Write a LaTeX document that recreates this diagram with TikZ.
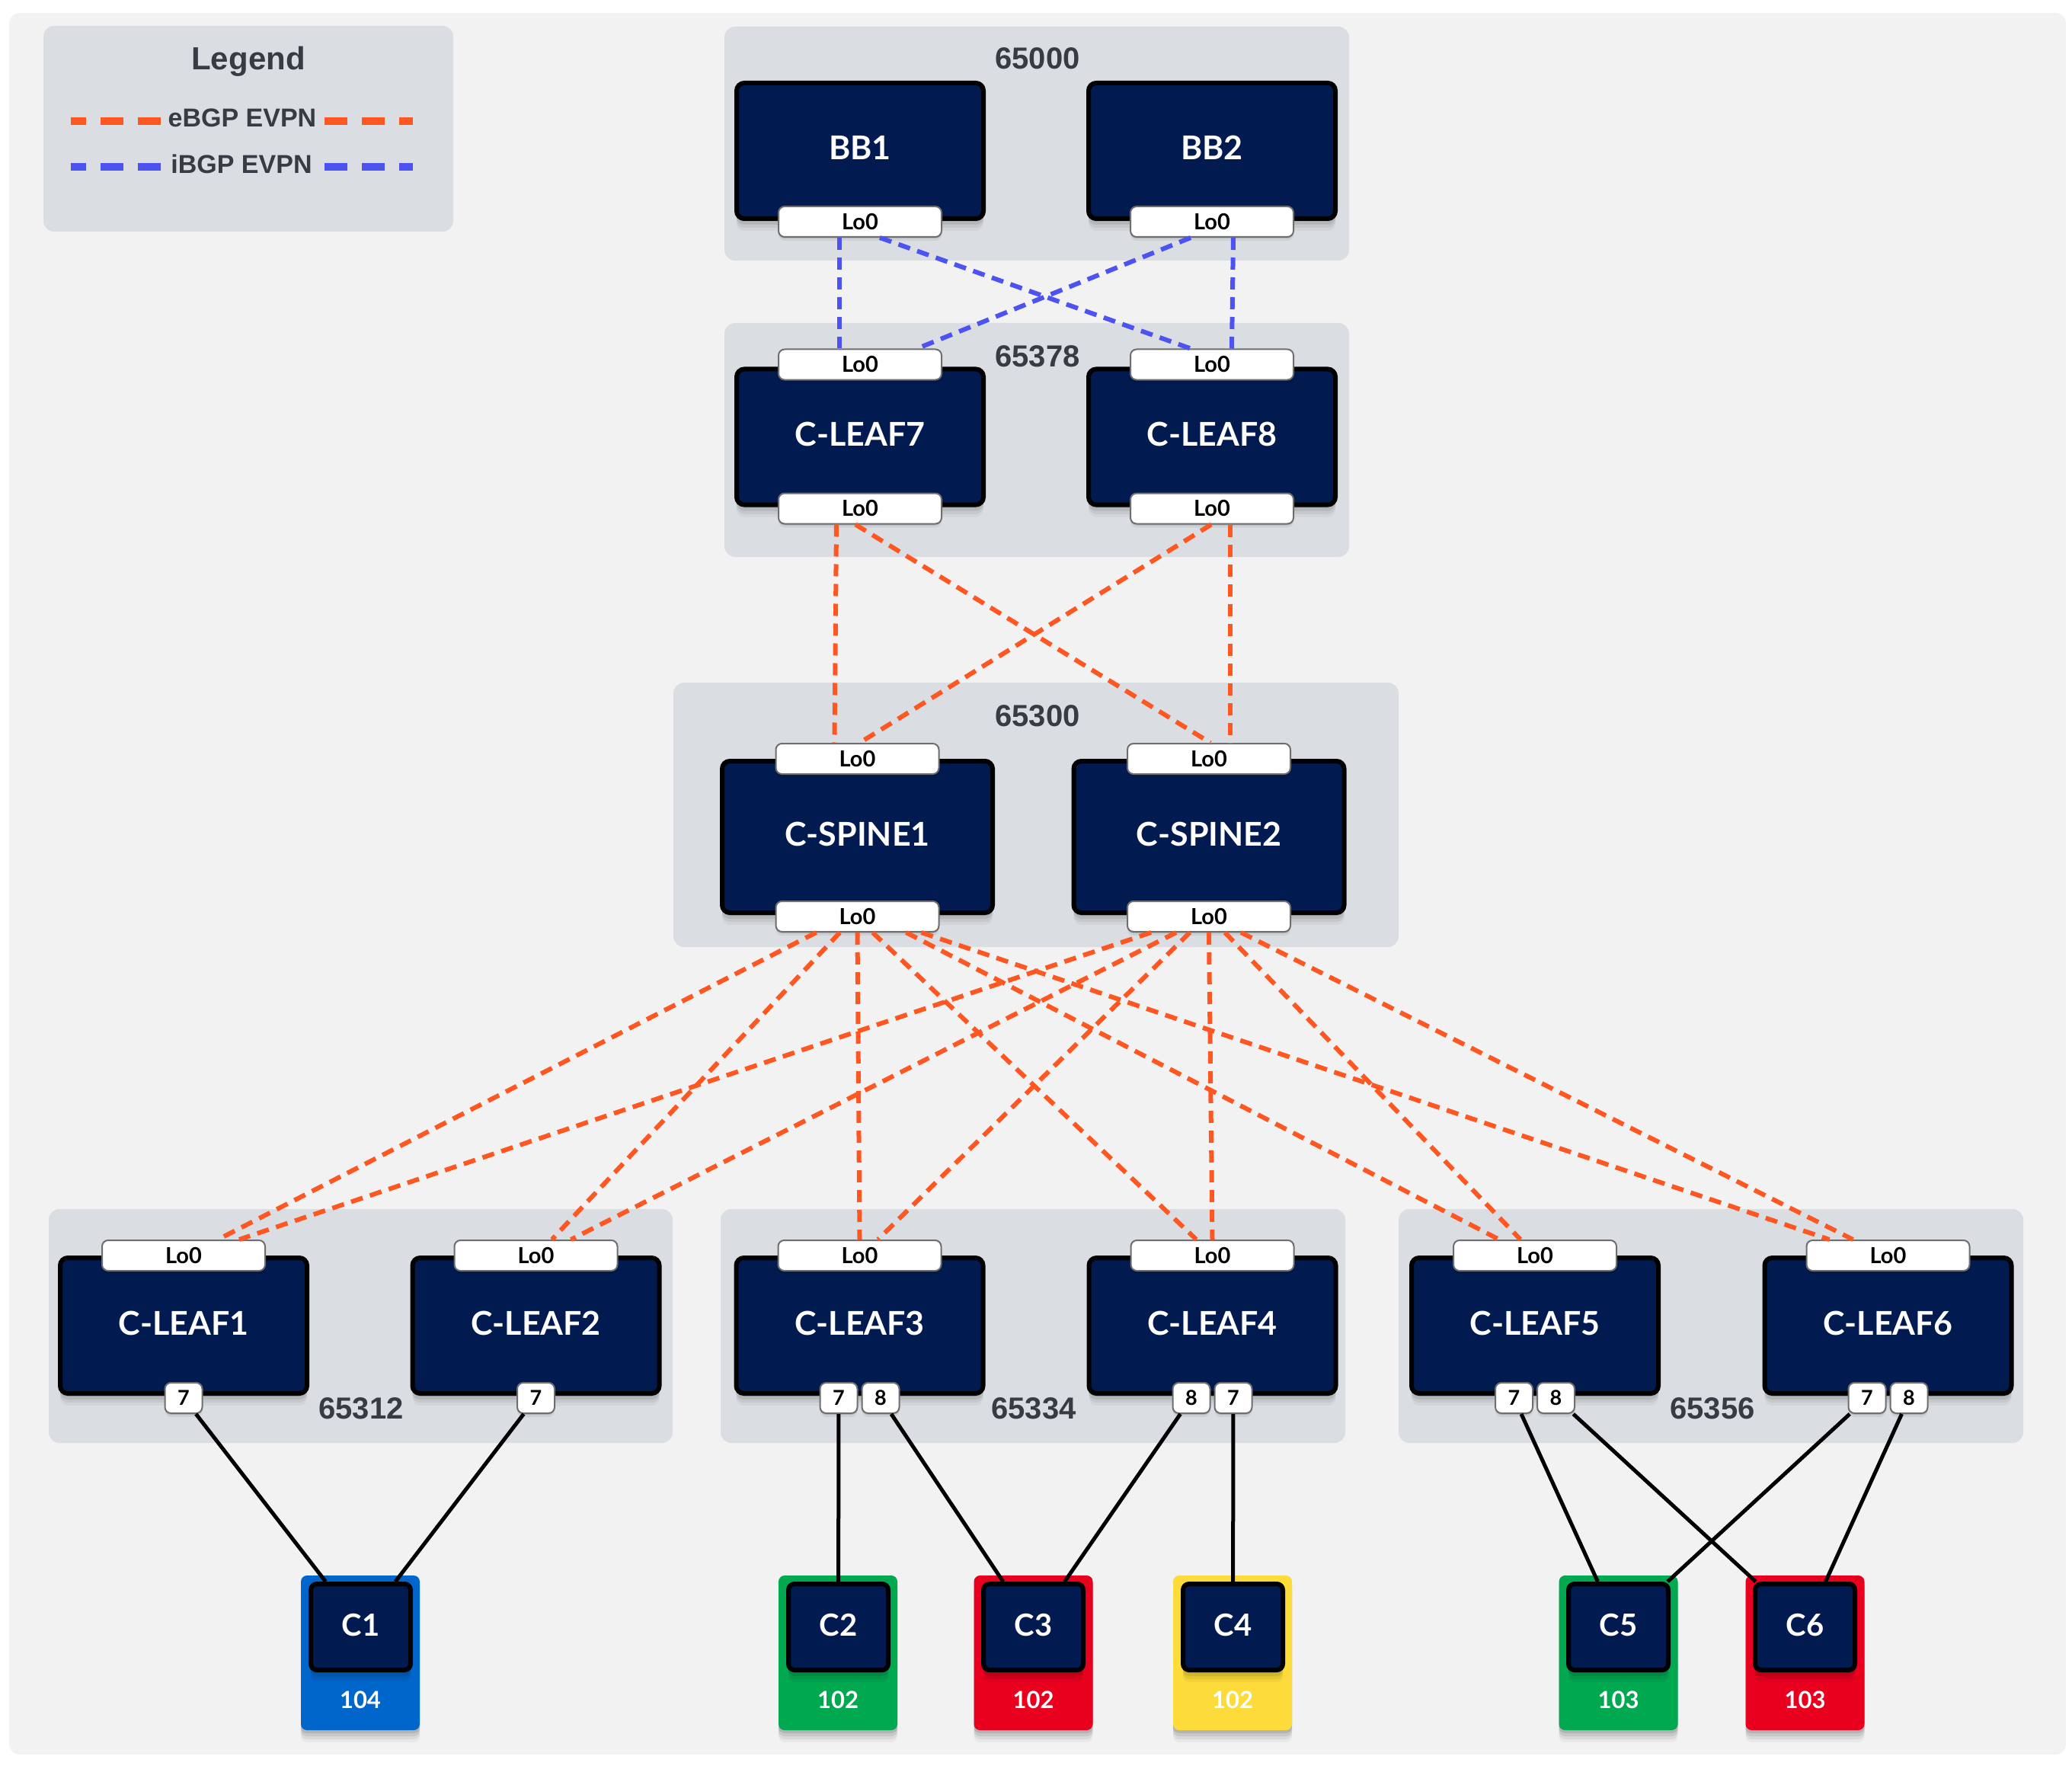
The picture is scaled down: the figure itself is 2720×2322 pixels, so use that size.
\documentclass[tikz,border=0pt]{standalone}
\usepackage{fontspec}
\newfontfamily\lato{Lato}
\newfontfamily\lib{Liberation Sans}
\usetikzlibrary{calc}
\definecolor{navy}{RGB}{1,27,80}
\definecolor{grp}{RGB}{218,222,226}
\definecolor{panel}{RGB}{242,242,242}
\definecolor{ebgpc}{RGB}{255,87,34}
\definecolor{ibgpc}{RGB}{76,83,240}
\definecolor{astext}{RGB}{55,60,68}
\definecolor{logray}{RGB}{110,110,110}
\definecolor{cblue}{RGB}{0,102,204}
\definecolor{cgreen}{RGB}{0,168,80}
\definecolor{cred}{RGB}{232,0,30}
\definecolor{cyellow}{RGB}{253,219,58}
\begin{document}
\begin{tikzpicture}[x=0.5pt,y=-0.5pt,
  softshadow/.style={
    preaction={fill=black, fill opacity=0.10, draw=none, transform canvas={yshift=-2pt}},
    preaction={fill=black, fill opacity=0.08, draw=none, transform canvas={yshift=-4pt}},
    preaction={fill=black, fill opacity=0.06, draw=none, transform canvas={yshift=-6pt}},
    preaction={fill=black, fill opacity=0.04, draw=none, transform canvas={yshift=-8pt}}},
  smallshadow/.style={
    preaction={fill=black, fill opacity=0.12, draw=none, transform canvas={yshift=-1pt}},
    preaction={fill=black, fill opacity=0.06, draw=none, transform canvas={yshift=-2.5pt}}},
  dev/.style={softshadow, draw=black, line width=3pt, fill=navy, rounded corners=5pt, inner sep=0pt,
    minimum width=162pt, minimum height=89pt, text=white, text height=15.5pt, text depth=3.5pt,
    font=\lato\bfseries\fontsize{21.5pt}{24pt}\selectfont},
  spine/.style={dev, minimum width=177.5pt, minimum height=99.5pt},
  lo/.style={smallshadow, draw=logray, line width=1pt, fill=white, rounded corners=4pt, inner sep=0pt,
    minimum width=107pt, minimum height=20pt, text=black,
    font=\lato\bfseries\fontsize{14.5pt}{16pt}\selectfont},
  port/.style={lo, minimum width=24.5pt, font=\lato\bfseries\fontsize{13.5pt}{15pt}\selectfont},
  grp/.style={fill=grp, rounded corners=7pt, inner sep=0pt},
  aslabel/.style={anchor=base, text=astext, font=\lib\bfseries\fontsize{20pt}{22pt}\selectfont},
  cli/.style={softshadow, draw=black, line width=3pt, fill=navy, rounded corners=4pt, inner sep=0pt,
    minimum width=65.5pt, minimum height=56.5pt, text=white, text height=14.5pt, text depth=3pt,
    font=\lato\bfseries\fontsize{20pt}{22pt}\selectfont},
  clibg/.style={softshadow, rounded corners=4pt, inner sep=0pt, minimum width=78pt, minimum height=101.5pt},
  vlan/.style={text=white, font=\lato\bfseries\fontsize{15.5pt}{17pt}\selectfont},
  ibgp/.style={draw=ibgpc, line width=3pt, dash pattern=on 8pt off 5pt},
  ebgp/.style={draw=ebgpc, line width=3pt, dash pattern=on 8pt off 5pt},
  cable/.style={draw=black, line width=2.5pt},
  legtext/.style={fill=grp, inner xsep=5pt, inner ysep=1pt, text=astext,
    font=\lib\bfseries\fontsize{17pt}{19pt}\selectfont}
]
\useasboundingbox (0,0) rectangle (2720,2322);
\fill[white] (0,0) rectangle (2720,2322);
\node[fill=panel, rounded corners=7pt, inner sep=0pt, minimum width=1350pt, minimum height=1143pt] (panelbox) at (1362,1160) {};
\node[grp, minimum width=269pt, minimum height=135pt] (legend) at (326,169) {};
\node[grp, minimum width=410pt, minimum height=153.5pt] (g65000) at (1361,188.5) {};
\node[grp, minimum width=410pt, minimum height=153.5pt] (g65378) at (1361,577.5) {};
\node[grp, minimum width=476pt, minimum height=173.5pt] (g65300) at (1360,1069.5) {};
\node[grp, minimum width=409.5pt, minimum height=153.5pt] (g65312) at (473.5,1740.5) {};
\node[grp, minimum width=410pt, minimum height=153.5pt] (g65334) at (1356,1740.5) {};
\node[grp, minimum width=410pt, minimum height=153.5pt] (g65356) at (2246,1740.5) {};

% client colour boxes
\node[clibg, fill=cblue] (c1bg) at (473,2169.5) {};
\node[clibg, fill=cgreen] (c2bg) at (1100,2169.5) {};
\node[clibg, fill=cred] (c3bg) at (1356.5,2169.5) {};
\node[clibg, fill=cyellow] (c4bg) at (1618,2169.5) {};
\node[clibg, fill=cgreen] (c5bg) at (2124.5,2169.5) {};
\node[clibg, fill=cred] (c6bg) at (2369.5,2169.5) {};

% legend
\node[aslabel, font=\lib\bfseries\fontsize{21pt}{23pt}\selectfont] (legtitle) at (326,92) {Legend};
\coordinate (ea) at (93,159);
\coordinate (eb) at (542,159);
\coordinate (ia) at (93,219);
\coordinate (ib) at (542,219);
\draw[draw=ebgpc, line width=5pt, dash pattern=on 15pt off 9.5pt, dash phase=5pt] (ea) -- (eb);
\draw[draw=ibgpc, line width=5pt, dash pattern=on 15pt off 9.5pt, dash phase=5pt] (ia) -- (ib);
\node[legtext] (legeb) at (318,155) {eBGP EVPN};
\node[legtext] (legib) at (317,215) {iBGP EVPN};

% AS labels
\node[aslabel] (as65000) at (1362,91) {65000};
\node[aslabel] (as65378) at (1362,481) {65378};
\node[aslabel] (as65300) at (1362,953) {65300};
\node[aslabel] (as65312) at (474,1862) {65312};
\node[aslabel] (as65334) at (1357,1862) {65334};
\node[aslabel] (as65356) at (2248,1862) {65356};

% devices
\node[dev] (bb1) at (1129,198) {BB1};
\node[dev] (bb2) at (1591,198) {BB2};
\node[dev] (l7) at (1129,573.5) {C-LEAF7};
\node[dev] (l8) at (1591,573.5) {C-LEAF8};
\node[spine] (s1) at (1125.5,1098.5) {C-SPINE1};
\node[spine] (s2) at (1587,1098.5) {C-SPINE2};
\node[dev] (l1) at (241,1740) {C-LEAF1};
\node[dev] (l2) at (703.5,1740) {C-LEAF2};
\node[dev] (l3) at (1128.5,1740) {C-LEAF3};
\node[dev] (l4) at (1591.5,1740) {C-LEAF4};
\node[dev] (l5) at (2015,1740) {C-LEAF5};
\node[dev] (l6) at (2478.5,1740) {C-LEAF6};

% loopbacks
\node[lo] (bb1lo) at ([yshift=-0.5pt]bb1.south) {Lo0};
\node[lo] (bb2lo) at ([yshift=-0.5pt]bb2.south) {Lo0};
\node[lo] (l7t) at ([yshift=1.5pt]l7.north) {Lo0};
\node[lo] (l8t) at ([yshift=1.5pt]l8.north) {Lo0};
\node[lo] (l7b) at ([yshift=-1pt]l7.south) {Lo0};
\node[lo] (l8b) at ([yshift=-1pt]l8.south) {Lo0};
\node[lo] (s1t) at (s1.north) {Lo0};
\node[lo] (s2t) at (s2.north) {Lo0};
\node[lo] (s1b) at ([yshift=-1pt]s1.south) {Lo0};
\node[lo] (s2b) at ([yshift=-1pt]s2.south) {Lo0};
\node[lo] (l1lo) at (l1.north) {Lo0};
\node[lo] (l2lo) at (l2.north) {Lo0};
\node[lo] (l3lo) at (l3.north) {Lo0};
\node[lo] (l4lo) at (l4.north) {Lo0};
\node[lo] (l5lo) at (l5.north) {Lo0};
\node[lo] (l6lo) at (l6.north) {Lo0};

% ports
\node[port] (l1p7) at ([yshift=-1.5pt]l1.south) {7};
\node[port] (l2p7) at ([yshift=-1.5pt]l2.south) {7};
\node[port] (l3p7) at ([xshift=-13.75pt,yshift=-1.5pt]l3.south) {7};
\node[port] (l3p8) at ([xshift=13.75pt,yshift=-1.5pt]l3.south) {8};
\node[port] (l4p8) at ([xshift=-13.75pt,yshift=-1.5pt]l4.south) {8};
\node[port] (l4p7) at ([xshift=13.75pt,yshift=-1.5pt]l4.south) {7};
\node[port] (l5p7) at ([xshift=-13.75pt,yshift=-1.5pt]l5.south) {7};
\node[port] (l5p8) at ([xshift=13.75pt,yshift=-1.5pt]l5.south) {8};
\node[port] (l6p7) at ([xshift=-13.75pt,yshift=-1.5pt]l6.south) {7};
\node[port] (l6p8) at ([xshift=13.75pt,yshift=-1.5pt]l6.south) {8};

% clients
\node[cli] (c1) at (473.5,2135.5) {C1};
\node[cli] (c2) at (1100.5,2135.5) {C2};
\node[cli] (c3) at (1356.5,2135.5) {C3};
\node[cli] (c4) at (1618.5,2135.5) {C4};
\node[cli] (c5) at (2124.5,2135.5) {C5};
\node[cli] (c6) at (2369.5,2135.5) {C6};
\node[vlan] (v1) at (473,2231) {104};
\node[vlan] (v2) at (1100,2231) {102};
\node[vlan] (v3) at (1356.5,2231) {102};
\node[vlan] (v4) at (1618,2231) {102};
\node[vlan] (v5) at (2124.5,2231) {103};
\node[vlan] (v6) at (2369.5,2231) {103};

% iBGP
\draw[ibgp] ($(bb1lo.south)+(-27,0)$) -- ($(l7t.north)+(-27,0)$);
\draw[ibgp] ($(bb1lo.south)+(26,0)$) -- ($(l8t.north)+(-28,0)$);
\draw[ibgp] ($(bb2lo.south)+(-28,0)$) -- ($(l7t.north)+(75,0)$);
\draw[ibgp] ($(bb2lo.south)+(28,0)$) -- ($(l8t.north)+(26,0)$);
% eBGP leaf7/8 - spines
\draw[ebgp] ($(l7b.south)+(-31,0)$) -- ($(s1t.north)+(-30,0)$);
\draw[ebgp] ($(l7b.south)+(-6,0)$) -- ($(s2t.north)+(2,0)$);
\draw[ebgp] ($(l8b.south)+(-1,0)$) -- ($(s1t.north)+(3,0)$);
\draw[ebgp] ($(l8b.south)+(24,0)$) -- ($(s2t.north)+(28,0)$);
% eBGP spines - leaves
\draw[ebgp] ($(s1b.south)+(-54,0)$) -- ($(l1lo.north)+(45,0)$);
\draw[ebgp] ($(s1b.south)+(-23,0)$) -- ($(l2lo.north)+(21,0)$);
\draw[ebgp] (s1b.south) -- (l3lo.north);
\draw[ebgp] ($(s1b.south)+(20,0)$) -- ($(l4lo.north)+(-21,0)$);
\draw[ebgp] ($(s1b.south)+(64,0)$) -- ($(l5lo.north)+(-47,0)$);
\draw[ebgp] ($(s1b.south)+(84,0)$) -- ($(l6lo.north)+(-77,0)$);
\draw[ebgp] ($(s2b.south)+(-76,0)$) -- ($(l1lo.north)+(73,0)$);
\draw[ebgp] ($(s2b.south)+(-43,0)$) -- ($(l2lo.north)+(46,0)$);
\draw[ebgp] ($(s2b.south)+(-25,0)$) -- ($(l3lo.north)+(24,0)$);
\draw[ebgp] (s2b.south) -- (l4lo.north);
\draw[ebgp] ($(s2b.south)+(21,0)$) -- ($(l5lo.north)+(-19,0)$);
\draw[ebgp] ($(s2b.south)+(42,0)$) -- ($(l6lo.north)+(-46,0)$);
% cables
\draw[cable] (l1p7) -- (c1);
\draw[cable] (l2p7) -- (c1);
\draw[cable] (l3p7) -- (c2);
\draw[cable] (l3p8) -- (c3);
\draw[cable] (l4p8) -- (c3);
\draw[cable] (l4p7) -- (c4);
\draw[cable] (l5p7) -- (c5);
\draw[cable] (l5p8) -- (c6);
\draw[cable] (l6p7) -- (c5);
\draw[cable] (l6p8) -- (c6);
\end{tikzpicture}
\end{document}
